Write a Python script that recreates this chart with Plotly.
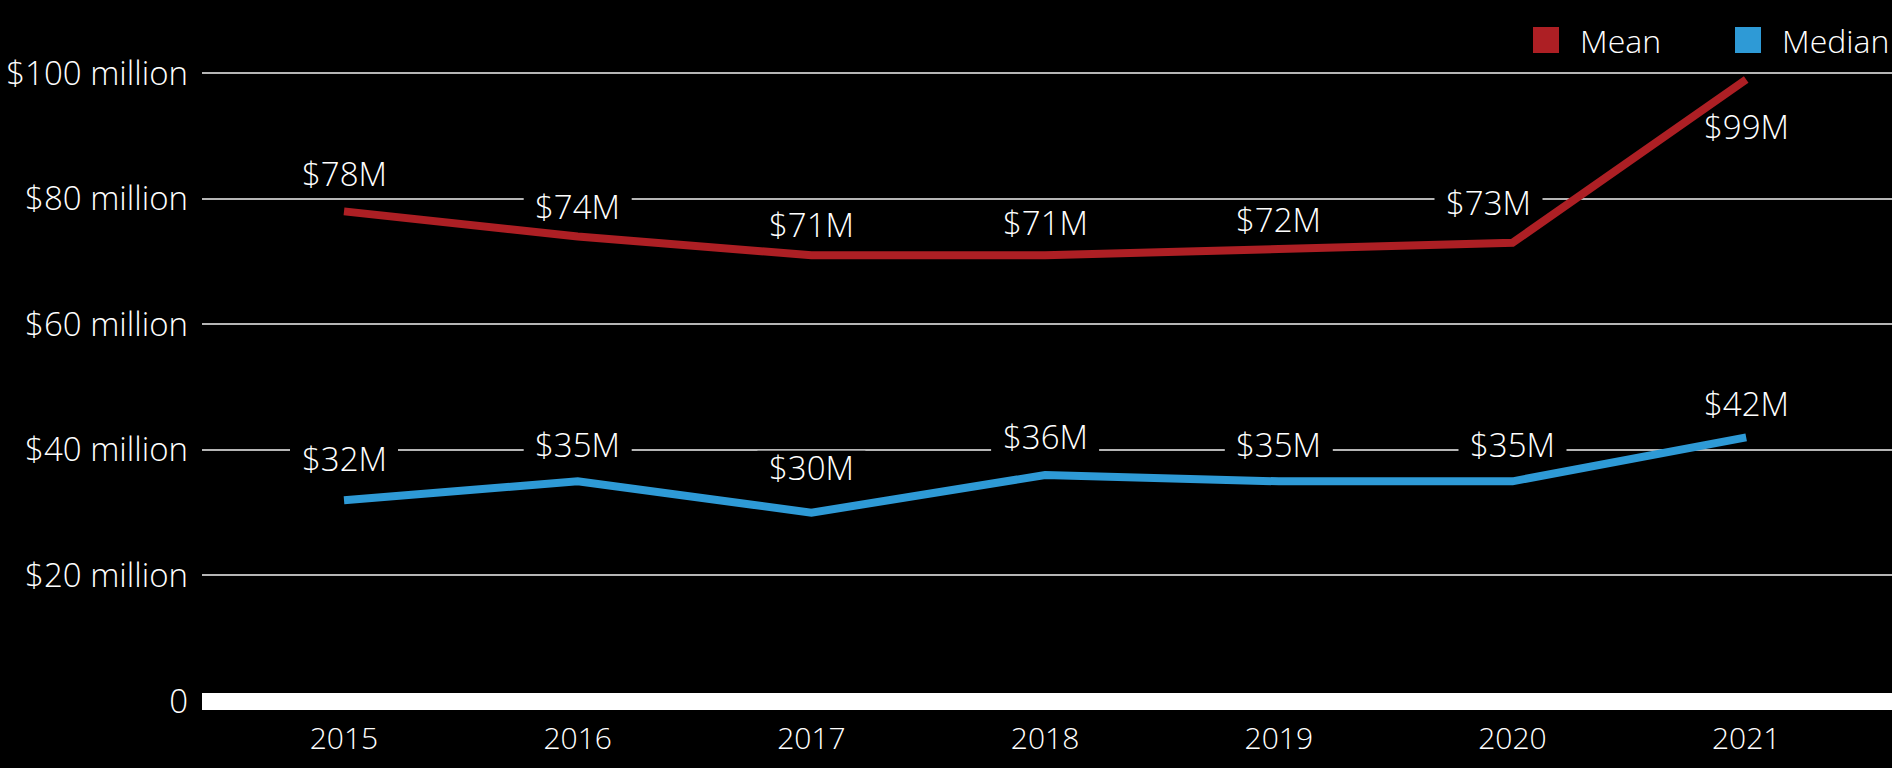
import plotly.graph_objects as go

years = [2015, 2016, 2017, 2018, 2019, 2020, 2021]
mean_vals = [78, 74, 71, 71, 72, 73, 99]
median_vals = [32, 35, 30, 36, 35, 35, 42]
mean_labels = ["$78M", "$74M", "$71M", "$71M", "$72M", "$73M", "$99M"]
median_labels = ["$32M", "$35M", "$30M", "$36M", "$35M", "$35M", "$42M"]
y_tick_vals = [0, 20, 40, 60, 80, 100]
y_tick_text = ["0", "$20 million", "$40 million", "$60 million", "$80 million", "$100 million"]
x_tick_text = ["2015", "2016", "2017", "2018", "2019", "2020", "2021"]

# label placement (pixel offsets), style only
mean_yshift = [38, 30, 31, 33, 30, 40, -47]
mean_xshift = [0, 0, 0, 0, 0, -24, 0]
median_yshift = [42, 37, 45, 39, 37, 37, 34]
BOX_HALF_W = 54
BOX_HALF_H = 17

RED = "#AD1F24"
BLUE = "#2E9AD6"
FONT = "Open Sans"
FS = 33
WEIGHT = 350

W, H = 1892, 768
ML, MR, MT, MB = 202, 0, 0, 58
PW, PH = W - ML - MR, H - MT - MB

fig = go.Figure()
fig.add_trace(go.Scatter(x=years, y=mean_vals, mode="lines", name="Mean",
                         line=dict(color=RED, width=8), showlegend=False))
fig.add_trace(go.Scatter(x=years, y=median_vals, mode="lines", name="Median",
                         line=dict(color=BLUE, width=8), showlegend=False))

annotations = []
shapes = []

def add_label(x, y, t, xs, ys):
    annotations.append(dict(x=x, y=y, text=t, showarrow=False, yshift=ys, xshift=xs,
                            font=dict(family=FONT, size=FS, color="white", weight=WEIGHT)))
    # black backing box: hides gridlines but sits beneath the data lines
    shapes.append(dict(type="rect", layer="between", xref="x", yref="y",
                       xsizemode="pixel", ysizemode="pixel", xanchor=x, yanchor=y,
                       x0=xs - BOX_HALF_W, x1=xs + BOX_HALF_W,
                       y0=ys - BOX_HALF_H, y1=ys + BOX_HALF_H,
                       fillcolor="black", line=dict(width=0)))

for i, (x, y, t) in enumerate(zip(years, mean_vals, mean_labels)):
    add_label(x, y, t, mean_xshift[i], mean_yshift[i])
for i, (x, y, t) in enumerate(zip(years, median_vals, median_labels)):
    add_label(x, y, t, 0, median_yshift[i])

def px2x(px):
    return (px - ML) / PW

def px2y(py):
    return 1 - (py - MT) / PH

legend_items = [("Mean", RED, 1533, 1578), ("Median", BLUE, 1735, 1780)]
for name, col, sx, tx in legend_items:
    shapes.append(dict(type="rect", xref="paper", yref="paper",
                       x0=px2x(sx), x1=px2x(sx + 26), y0=px2y(53), y1=px2y(27),
                       fillcolor=col, line=dict(width=0)))
    annotations.append(dict(xref="paper", yref="paper", x=px2x(tx), y=px2y(40),
                            xanchor="left", yanchor="middle", text=name, showarrow=False,
                            font=dict(family=FONT, size=FS - 1, color="white", weight=WEIGHT)))

unit = 233.7
x0 = 2015 - 142 / unit
x1 = x0 + PW / unit
ppm = 6.277
y0 = -9 / ppm
y1 = y0 + PH / ppm

fig.update_layout(
    width=W, height=H,
    margin=dict(l=ML, r=MR, t=MT, b=MB, pad=0),
    paper_bgcolor="black", plot_bgcolor="black",
    showlegend=False,
    font=dict(family=FONT, size=FS, color="white"),
    xaxis=dict(range=[x0, x1], tickvals=years, ticktext=x_tick_text, showgrid=False,
               zeroline=False, showline=False, ticks="", ticklabelstandoff=8,
               tickfont=dict(family=FONT, size=FS - 3, color="white", weight=WEIGHT)),
    yaxis=dict(range=[y0, y1], tickvals=y_tick_vals, ticktext=y_tick_text,
               showgrid=True, gridcolor="#b5b5b5", gridwidth=1.5,
               zeroline=True, zerolinecolor="white", zerolinewidth=17,
               showline=False, ticks="", ticklabelstandoff=13,
               tickfont=dict(family=FONT, size=FS, color="white", weight=WEIGHT)),
    annotations=annotations,
    shapes=shapes,
)

fig.write_html("out.html")
